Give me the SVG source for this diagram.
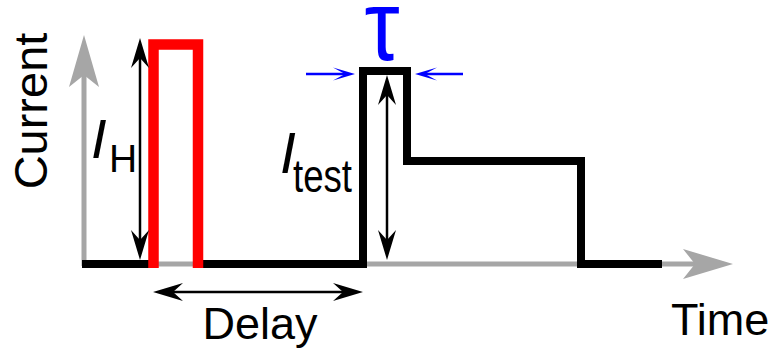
<svg xmlns="http://www.w3.org/2000/svg" width="776" height="349" viewBox="0 0 776 349">
<style>
text{font-family:"Liberation Sans",Arial,sans-serif;fill:#000}
.ax{stroke:#a6a6a6;stroke-width:5;fill:none}
.axh{fill:#a6a6a6}
.wave{stroke:#000;stroke-width:8;fill:none;stroke-linejoin:miter}
.heat{stroke:#ff0000;stroke-width:10.5;fill:none;stroke-linejoin:miter}
.dim{stroke:#000;stroke-width:2.5;fill:none;marker-start:url(#ah);marker-end:url(#ah)}
.tau{stroke:#0000ff;stroke-width:2.5;fill:none;marker-end:url(#bh)}
</style>
<defs>
<marker id="ah" markerUnits="userSpaceOnUse" orient="auto-start-reverse" refX="0" refY="0" markerWidth="40" markerHeight="40" overflow="visible">
<path d="M20,0 L-10,-9 L0,0 L-10,9 Z" fill="#000"/>
</marker>
<marker id="bh" markerUnits="userSpaceOnUse" orient="auto" refX="0" refY="0" markerWidth="30" markerHeight="30" overflow="visible">
<path d="M10,0 L-12,-6.5 L0,0 L-12,6.5 Z" fill="#0000ff"/>
</marker>
</defs>
<g id="axes">
<line class="ax" x1="84" y1="266" x2="84" y2="74"/>
<path class="axh" d="M84,35 L99,87 L84,75 L69,87 Z"/>
<line class="ax" x1="82" y1="264" x2="696" y2="264"/>
<path class="axh" d="M733,264 L683,279 L695,264 L683,249 Z"/>
<text transform="translate(47,111) rotate(-90)" text-anchor="middle" font-size="47">Current</text>
<text x="671" y="335" font-size="45">Time</text>
</g>
<g id="waveform">
<path class="wave" d="M82,264 H150"/>
<path class="wave" d="M200,264 H363 V71 H407 V161 H581 V264 H662"/>
<path class="heat" d="M153.5,268 V44.5 H198 V268"/>
</g>
<g id="connectors">
<line class="dim" x1="140" y1="58" x2="140" y2="240"/>
<line class="dim" x1="387" y1="95" x2="387" y2="240"/>
<line class="dim" x1="173" y1="292" x2="343" y2="292"/>
<line class="tau" x1="306" y1="74" x2="345" y2="74"/>
<line class="tau" x1="463" y1="74" x2="425" y2="74"/>
</g>
<g id="label-IH">
<text x="91" y="158" font-size="56" font-style="italic">I</text>
<text x="109" y="172" font-size="39">H</text>
</g>
<g id="label-Itest">
<text x="280" y="173" font-size="57" font-style="italic">I</text>
<text x="293" y="192" font-size="46" textLength="59" lengthAdjust="spacingAndGlyphs">test</text>
</g>
<g id="label-tau">
<text transform="translate(382,60) scale(1.48,1.66)" x="0" y="0" font-size="60" text-anchor="middle" style="fill:#0000ff">τ</text>
</g>
<g id="label-delay">
<text x="260" y="339" font-size="45" text-anchor="middle">Delay</text>
</g>
</svg>
